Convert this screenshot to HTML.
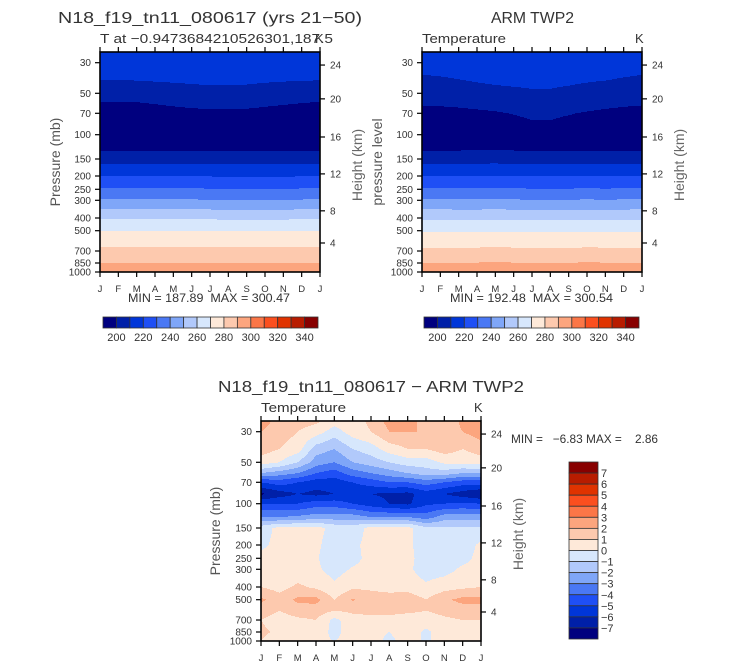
<!DOCTYPE html>
<html><head><meta charset="utf-8">
<style>
body{margin:0;background:#fff;}
svg{display:block;font-family:"Liberation Sans",sans-serif;}
</style></head>
<body>
<svg id="root" width="733" height="665" viewBox="0 0 733 665"></svg>
<script>
// ---------- data ----------
const months = ["J","F","M","A","M","J","J","A","S","O","N","D","J"];
const levels = [25,30,40,50,60,70,85,100,125,150,200,250,300,400,500,600,700,850,1000];
const pressureTicks = [30,50,70,100,150,200,250,300,400,500,700,850,1000];
const heightTicks = [24,20,16,12,8,4];
const tempBarLabels = [200,220,240,260,280,300,320,340];
const diffBarLabels = [7,6,5,4,3,2,1,0,-1,-2,-3,-4,-5,-6,-7];
const palette = ["#00007f","#0020a8","#0036d9","#1f4ff5","#4a78f4","#7fa6f8","#b1c9fb","#d7e7fc","#fee9d9","#fdc9ae","#fca57e","#fb7647","#fb4f1f","#e03300","#b81c00","#880000"];

const modelT = [
 [218,218,218.2,218.6,219,219.3,219.5,219.5,219.3,219,218.6,218.3,218],
 [216,216,216.1,216.6,217,217.3,217.5,217.5,217.3,217,216.6,216.3,216],
 [210.2,210.2,210.3,210.8,211.2,211.6,212,212,211.8,211.2,210.8,210.4,210.2],
 [203.5,203.5,203.6,204.5,205.5,206.3,207,207,206.6,205.5,204.5,204,203.5],
 [199,199,199.2,200,200.8,201.5,202,202,201.8,201,200.3,199.6,199],
 [196.5,196.5,196.6,197,197.5,198,198.5,198.5,198.2,197.6,197,196.7,196.5],
 [194.5,194.5,194.4,194.4,194.5,194.6,194.8,194.8,194.7,194.5,194.4,194.5,194.5],
 [194,194,194,194,194,194,194,194,194,194,194,194,194],
 [198,198,198,198.2,198.2,198,198,198,198,197.8,197.8,198,198],
 [206,206,206,206.2,206.2,206,205.8,205.8,205.8,205.6,205.6,205.8,206],
 [220,220,220,220,220,219.8,219.6,219.5,219.5,219.3,219.4,219.7,220],
 [231,231,231,231,231,230.8,230.6,230.5,230.5,230.3,230.4,230.7,231],
 [241,241,241,241,241,240.8,240.6,240.5,240.5,240.3,240.4,240.7,241],
 [259,259,259,259,259,258.8,258.7,258.6,258.6,258.5,258.6,258.8,259],
 [270,270,270,270,270.1,270.1,270,270,270,270,270,270,270],
 [277,277,277,277,277,277,277,277,277,277,277,277,277],
 [282,282,282,282,282,282,282,282,282,282,282,282,282],
 [290,290,290,290,290,290,290,290,290,290,290,290,290],
 [296,296,296,296,296,296,296,296,296,296,296,296,296]
];
const obsT = [
 [216,216.3,217,218,218.8,219.3,219.5,219.5,219,218,217.3,216.5,216],
 [213.5,213.8,214.5,215.5,216.3,216.8,217,217,216.5,215.5,214.8,214,213.5],
 [208.5,209,209.8,210.8,211.5,211.8,212,212,211.5,210.8,210.2,209.3,208.5],
 [204,204.5,205.3,206.5,207.5,208.3,209,209,208,206.8,205.8,204.8,204],
 [200.5,200.8,201.3,202,202.8,203.8,205,205,204,202.8,201.8,201,200.5],
 [197,197.3,197.8,198.5,199.2,200.3,201.5,201.5,200.5,199.3,198.3,197.6,197],
 [193,193.5,194,195,196,197.5,199,199,197.5,196,195,194,193],
 [193,193,193.2,193.5,193.8,194,194.2,194.2,194,193.8,193.5,193.2,193],
 [198,198,198.2,198.4,198.5,198.3,198,198,198,198,198.2,198.1,198],
 [206,206,206.2,206.2,206.4,206,205.8,205.8,205.8,205.8,205.6,205.8,206],
 [220,220,220,220,220.2,219.8,219.6,219.6,219.6,219.7,219.6,219.8,220],
 [231,231,230.8,230.8,231,230.8,230.6,230.6,230.6,230.8,230.6,230.8,231],
 [241,241,240.8,240.8,241,240.8,240.6,240.6,240.6,240.8,240.6,240.8,241],
 [258.5,258.5,258.4,258.4,258.6,258.3,258.2,258.2,258.2,258.4,258.3,258.4,258.5],
 [268.8,269,268.8,269,269.4,269,268.8,268.8,268.8,269.2,269,269,268.8],
 [276.5,276.8,276.6,276.8,277.3,276.8,276.6,276.6,276.6,277,276.8,276.8,276.5],
 [281.5,281.8,281.6,281.8,282.3,281.8,281.6,281.6,281.6,282,281.8,281.8,281.5],
 [290,290.3,290.1,290.3,290.7,290.3,290.2,290.2,290.2,290.5,290.3,290.2,290],
 [296,296.2,296,296.2,296.5,296.2,296,296,296,296.4,296.2,296,296]
];
const diffT = [
 [2.5,1.6,1.4,1.2,0.5,0.6,1.2,2.4,2.5,1.5,1.0,2.3,2.5],
 [2.0,1.5,1.0,0.5,-0.5,0.5,1.0,2.0,2.0,2.0,1.2,2.0,2.5],
 [1.5,1.0,0.5,-1.5,-2.0,-1.0,-0.5,0.5,1.0,1.0,1.5,1.0,1.5],
 [0.5,0.0,-1.0,-2.5,-3.0,-2.0,-1.5,-1.0,-0.5,-0.5,0.2,0.3,0.5],
 [-2.0,-2.5,-3.0,-4.0,-4.5,-3.5,-3.0,-2.5,-2.0,-1.5,-1.5,-2.0,-2.0],
 [-5.0,-4.5,-5.0,-5.5,-5.5,-5.0,-4.5,-4.0,-4.0,-3.5,-4.0,-4.5,-4.5],
 [-7.2,-6.5,-6.0,-6.3,-6.0,-5.8,-6.0,-6.2,-6.3,-5.5,-6.0,-6.5,-7.0],
 [-5.0,-5.0,-5.0,-4.5,-4.5,-5.0,-5.5,-6.0,-6.2,-5.2,-5.0,-4.8,-5.0],
 [-3.0,-3.0,-2.8,-2.5,-2.5,-2.5,-3.0,-3.0,-3.0,-3.5,-2.5,-2.5,-2.5],
 [-0.5,0.3,0.3,0.3,-0.3,-0.5,0.3,0.3,0.3,-0.8,-0.8,-0.8,-0.8],
 [-0.2,0.3,0.3,0.2,-0.5,-0.2,0.3,0.3,0.2,-0.5,-0.5,-0.5,0.2],
 [0.3,0.3,0.3,0.1,-0.6,-0.3,0.3,0.3,0.3,-0.5,-0.5,-0.3,0.3],
 [0.3,0.3,0.3,0.2,-0.4,0.1,0.3,0.3,0.2,-0.5,-0.4,0.2,0.3],
 [1.0,0.6,1.2,0.8,0.2,0.8,0.8,0.6,0.6,0.2,0.6,0.8,1.0],
 [2.2,1.5,2.2,2.3,1.0,2.1,1.5,1.5,1.6,1.0,1.8,2.3,2.3],
 [1.5,1.0,1.5,1.5,1.0,1.2,1.2,1.2,1.2,1.0,1.3,1.5,1.5],
 [1.0,0.5,0.8,1.0,-0.3,0.6,0.8,0.8,0.5,0.5,0.8,1.0,1.0],
 [1.2,0.8,1.0,1.0,-0.5,0.8,0.3,0.0,0.6,-0.2,0.5,0.8,1.0],
 [1.0,0.5,0.5,0.3,0.0,0.5,0.5,-0.3,0.5,-0.2,0.5,0.8,1.0]
];

// ---------- axis helpers ----------
const NS="http://www.w3.org/2000/svg";
const root=document.getElementById('root');
const W=220,H=220;
const axP=[25,30,50,70,100,150,200,250,300,400,500,700,850,1000];
const axY=[0,10.7,41.3,61.3,82.7,107,124,137.3,148.3,166,178.7,199,211,220];
// height axis: km -> equivalent pressure (tropical profile)
const axHkm=[28,24,20,16,12,8,4,0];
const axHp=[17.5,31.2,54.9,103.9,193,356,613,1000];
function pY(p){
  for(let i=0;i<axP.length-1;i++){
    if(p<=axP[i+1]){const t=Math.log(p/axP[i])/Math.log(axP[i+1]/axP[i]);return axY[i]+t*(axY[i+1]-axY[i]);}
  }
  return H;
}
function hY(h){
  for(let i=0;i<axHkm.length-1;i++){
    if(h>=axHkm[i+1]){const t=(axHkm[i]-h)/(axHkm[i]-axHkm[i+1]);return pY(Math.exp(Math.log(axHp[i])+t*(Math.log(axHp[i+1])-Math.log(axHp[i]))));}
  }
  return H;
}
function mX(m){return m*W/12;}
function el(tag,attrs,parent){const e=document.createElementNS(NS,tag);for(const k in attrs)e.setAttribute(k,attrs[k]);(parent||root).appendChild(e);return e;}
function txt(s,attrs,parent){const e=el('text',attrs,parent);e.textContent=s;return e;}

function drawField(g,x0,y0,data,idxFn){
  const LY=levels.map(pY);
  for(let py=0;py<H;py++){
    const yc=py+0.5;let k=0;
    while(k<LY.length-2&&yc>LY[k+1])k++;
    const t=Math.min(1,Math.max(0,(yc-LY[k])/(LY[k+1]-LY[k])));
    let runStart=0,runIdx=-1;
    for(let px=0;px<=W;px++){
      let idx=-2;
      if(px<W){
        const xm=(px+0.5)/W*12;const m=Math.min(11,Math.floor(xm));const f=xm-m;
        const a=data[k][m]*(1-f)+data[k][m+1]*f;
        const b=data[k+1][m]*(1-f)+data[k+1][m+1]*f;
        idx=idxFn(a*(1-t)+b*t);
      }
      if(idx!==runIdx){
        if(runIdx>=0){
          const r=el('rect',{x:x0+runStart,y:y0+py,width:px-runStart,height:1.05,fill:palette[runIdx]},g);
          
          
        }
        runStart=px;runIdx=idx;
      }
    }
  }
}

function drawPanel(o){
  const g=el('g',{});
  
  
  const fg=el('g',{},g);
  
  
  drawField(fg,o.x,o.y,o.data,o.idx);
  const fr=el('rect',{x:o.x,y:o.y,width:W,height:H,fill:'none',stroke:'#000','stroke-width':1.6},g);
  
  
  months.forEach((m,i)=>{
    const x=o.x+mX(i);
    el('line',{x1:x,y1:o.y+H,x2:x,y2:o.y+H+5,stroke:'#000','stroke-width':1.2},g);
    el('line',{x1:x,y1:o.y,x2:x,y2:o.y-5,stroke:'#000','stroke-width':1.2},g);
    const t=txt(m,{x:x,y:o.y+H+20,'font-size':9.5,'text-anchor':'middle',fill:'#333'},g);
    
    
  });
  pressureTicks.forEach(p=>{
    const y=o.y+pY(p);
    el('line',{x1:o.x,y1:y,x2:o.x-5,y2:y,stroke:'#000','stroke-width':1.2},g);
    const t=txt(String(p),{x:o.x-9,y:y+3.5,'font-size':10,'text-anchor':'end',fill:'#333'},g);
    
    
  });
  heightTicks.forEach(h=>{
    const y=o.y+hY(h);
    el('line',{x1:o.x+W,y1:y,x2:o.x+W+5,y2:y,stroke:'#000','stroke-width':1.2},g);
    const t=txt(String(h),{x:o.x+W+10,y:y+3.5,'font-size':10,fill:'#333'},g);
    
    
  });
  const yl=txt(o.ylab,{x:0,y:0,'font-size':14,'text-anchor':'middle',fill:'#555',transform:`translate(${o.ylx},${o.y+110}) rotate(-90)`},g);
  
  
  const hl=txt('Height (km)',{x:0,y:0,'font-size':14,'text-anchor':'middle',fill:'#666',transform:`translate(${o.x+W+42},${o.y+113}) rotate(-90)`},g);
  
  
  return g;
}

drawPanel({name:'model-panel',x:100,y:52,data:modelT,idx:v=>Math.max(0,Math.min(15,Math.floor((v-190)/10))),ylab:'Pressure (mb)',ylx:60});
drawPanel({name:'obs-panel',x:422,y:52,data:obsT,idx:v=>Math.max(0,Math.min(15,Math.floor((v-190)/10))),ylab:'pressure level',ylx:382});
drawPanel({name:'diff-panel',x:261,y:421,data:diffT,idx:v=>Math.max(0,Math.min(15,Math.floor(v+8))),ylab:'Pressure (mb)',ylx:220});

function hbar(x0,name){
  const g=el('g',{});
  
  
  const bw=215/16;
  palette.forEach((c,i)=>{
    const r=el('rect',{x:x0+i*bw,y:317,width:bw,height:11,fill:c,stroke:'#333','stroke-width':0.8},g);
    
    
  });
  tempBarLabels.forEach(v=>{
    const x=x0+((v-190)/10)*bw;
    const t=txt(String(v),{x:x,y:341,'font-size':11,'text-anchor':'middle',fill:'#333'},g);
    
    
  });
}
hbar(103,'model-colorbar');
hbar(424,'obs-colorbar');

(function(){
  const g=el('g',{});
  
  
  const bh=177/16;
  for(let i=0;i<16;i++){
    const r=el('rect',{x:569,y:462+i*bh,width:29,height:bh,fill:palette[15-i],stroke:'#333','stroke-width':0.8},g);
    
    
  }
  diffBarLabels.forEach(v=>{
    const y=462+(8-v)*bh;
    const t=txt(v<0?'\u2212'+(-v):String(v),{x:601,y:y+4,'font-size':11,fill:'#333'},g);
    
    
  });
})();

function label(s,a,name){const t=txt(s,Object.assign({fill:'#333'},a));return t;}
label('N18_f19_tn11_080617 (yrs 21\u221250)',{x:58,y:23,'font-size':16,textLength:304,lengthAdjust:'spacingAndGlyphs'},'model-title');
label('T at \u22120.9473684210526301,187.5',{x:100,y:43,'font-size':13,textLength:233,lengthAdjust:'spacingAndGlyphs'},'model-subtitle');
label('K',{x:315,y:43,'font-size':13},'model-units');
label('MIN = 187.89  MAX = 300.47',{x:128,y:302,'font-size':12,textLength:162,lengthAdjust:'spacingAndGlyphs',style:'white-space:pre'},'model-minmax');
label('ARM TWP2',{x:491,y:23,'font-size':16,textLength:83,lengthAdjust:'spacingAndGlyphs'},'obs-title');
label('Temperature',{x:422,y:43,'font-size':13,textLength:84,lengthAdjust:'spacingAndGlyphs'},'obs-subtitle');
label('K',{x:635,y:43,'font-size':13},'obs-units');
label('MIN = 192.48  MAX = 300.54',{x:450,y:302,'font-size':12,textLength:163,lengthAdjust:'spacingAndGlyphs',style:'white-space:pre'},'obs-minmax');
label('N18_f19_tn11_080617 \u2212 ARM TWP2',{x:218,y:392,'font-size':16,textLength:306,lengthAdjust:'spacingAndGlyphs'},'diff-title');
label('Temperature',{x:261,y:412,'font-size':13,textLength:85,lengthAdjust:'spacingAndGlyphs'},'diff-subtitle');
label('K',{x:474,y:412,'font-size':13},'diff-units');
label('MIN =   \u22126.83 MAX =    2.86',{x:511,y:443,'font-size':12,textLength:147,lengthAdjust:'spacingAndGlyphs',style:'white-space:pre'},'diff-minmax');
</script>
</body></html>
